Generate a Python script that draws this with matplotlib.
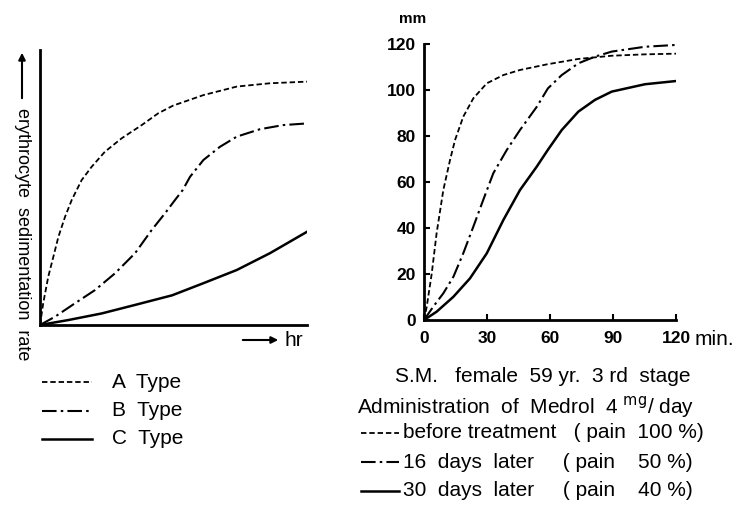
"""
Erythrocyte sedimentation rate curves: schematic types and a Medrol case
"""

import matplotlib
matplotlib.use("Agg")
import matplotlib.pyplot as plt
from matplotlib.lines import Line2D
from matplotlib.patches import FancyArrowPatch

plt.rcParams["font.family"] = ["Liberation Sans", "DejaVu Sans"]

# Left panel: schematic curves (arbitrary units, 0-100 on both axes)
type_a_x = [0, 1.2, 3.1, 5, 6.9, 9.4, 11.9, 15.6, 19.4, 24.3, 30.6, 38.1, 44.3,
            49.9, 61.2, 73.7, 86.1, 100]
type_a_y = [0, 7.9, 17.6, 24.8, 32.1, 39.4, 45.5, 52.7, 57.6, 63, 67.9, 72.7, 77,
            79.8, 83.6, 86.7, 87.9, 88.5]
type_b_x = [0, 5.6, 13.1, 20.6, 28.1, 35.6, 41.8, 46.8, 50.6, 53.4, 56.2, 61.2,
            67.4, 73.7, 82.4, 91.1, 100]
type_b_y = [0, 3, 7.9, 12.7, 18.8, 26.1, 34.5, 40.6, 45.5, 49, 53.9, 60, 64.8,
            68.5, 71.2, 72.7, 73.3]
type_c_x = [0, 10.6, 23.1, 35.6, 49.5, 61.2, 73.7, 86.1, 100]
type_c_y = [0, 1.8, 4.2, 7.3, 10.8, 15.2, 20, 26.1, 33.9]
type_labels = ["A  Type", "B  Type", "C  Type"]

# Right panel: S.M. case, sedimentation (mm) vs time (min)
before_t = [0, 1.3, 3.7, 6, 9.2, 12.4, 14.8, 18.7, 23.5, 29.9, 37.8, 45.7, 58.8,
            73.5, 89.4, 105.2, 120]
before_mm = [0, 5.8, 20.3, 37.7, 56.5, 69.6, 78.3, 88.4, 96.4, 102.9, 106.5, 108.7,
             111.2, 113.5, 114.9, 115.5, 115.8]
day16_t = [0, 4.4, 9.2, 14, 18.7, 23.5, 28.2, 33, 39.4, 45.7, 53.7, 59, 65.6, 73.5,
           81.4, 89.4, 105.2, 120]
day16_mm = [0, 5.8, 11.6, 18.8, 29, 40.6, 52.2, 63.8, 73.9, 82.6, 92.7, 100.7, 106.5,
            111.6, 114.5, 116.7, 118.8, 119.6]
day30_t = [0, 6, 14, 21.9, 29.9, 37.8, 45.7, 53.7, 59, 65.6, 73.5, 81.4, 89.4,
           105.2, 120]
day30_mm = [0, 3.6, 10.1, 18.1, 29, 43.5, 56.5, 66.7, 74, 82.6, 90.6, 95.7, 99.3,
            102.5, 103.9]
case_title = "S.M.   female  59 yr.  3 rd  stage"
case_dose = "Administration  of  Medrol  4 $^{\\mathrm{mg}}$/ day"
case_labels = ["before treatment   ( pain  100 %)",
               "16  days  later     ( pain    50 %)",
               "30  days  later     ( pain    40 %)"]
x_ticks = [0, 30, 60, 90, 120]
y_ticks = [0, 20, 40, 60, 80, 100, 120]

dash_a = (0, (3, 1.6))
dash_b = (0, (7, 2, 1.2, 2))
styles = [dict(lw=1.3, ls=dash_a), dict(lw=1.5, ls=dash_b), dict(lw=1.8, ls="-")]

W, H = 737, 508
fig = plt.figure(figsize=(W / 100, H / 100), dpi=100)

# ---- left schematic panel
ax1 = fig.add_axes([40 / W, 1 - 325 / H, 267 / W, 275 / H])
for xs, ys, st in zip([type_a_x, type_b_x, type_c_x], [type_a_y, type_b_y, type_c_y], styles):
    ax1.plot(xs, ys, color="black", **st)
ax1.set_xlim(0, 100)
ax1.set_ylim(0, 100)
ax1.spines[["top", "right"]].set_visible(False)
for s in ("left", "bottom"):
    ax1.spines[s].set_linewidth(2)
ax1.set_xticks([])
ax1.set_yticks([])

# arrows + axis texts of the schematic
fig.add_artist(FancyArrowPatch(
    (22 / W, 1 - 101 / H), (22 / W, 1 - 50 / H), transform=fig.transFigure,
    arrowstyle="-|>", mutation_scale=10, color="black", lw=1.5))
fig.text(22 / W, 1 - 234 / H, "erythrocyte  sedimentation  rate", rotation=-90,
         ha="center", va="center", fontsize=13)
fig.add_artist(FancyArrowPatch(
    (240 / W, 1 - 340 / H), (281 / W, 1 - 340 / H), transform=fig.transFigure,
    arrowstyle="-|>", mutation_scale=10, color="black", lw=1.5))
fig.text(284 / W, 1 - 340 / H, "hr", ha="left", va="center", fontsize=15)

# left legend
for i, (lab, st) in enumerate(zip(type_labels, styles)):
    y = 1 - (382 + 28.5 * i) / H
    fig.add_artist(Line2D([42 / W, 92 / W], [y, y], color="black", **st))
    fig.text(112 / W, y, lab, ha="left", va="center", fontsize=15)

# ---- right case panel
ax2 = fig.add_axes([424 / W, 1 - 320 / H, 252 / W, 276 / H])
for xs, ys, st in zip([before_t, day16_t, day30_t], [before_mm, day16_mm, day30_mm], styles):
    ax2.plot(xs, ys, color="black", **st)
ax2.set_xlim(0, 120)
ax2.set_ylim(0, 120)
ax2.spines[["top", "right"]].set_visible(False)
for s in ("left", "bottom"):
    ax2.spines[s].set_linewidth(2)
ax2.set_xticks(x_ticks)
ax2.set_yticks(y_ticks)
ax2.tick_params(direction="in", length=4, width=1.5, labelsize=12.5, pad=6)
ax2.tick_params(axis="x", pad=8)
ax2.set_xticklabels([str(v) for v in x_ticks], fontweight="bold")
ax2.set_yticklabels([str(v) for v in y_ticks], fontweight="bold")
ax2.text(129, -8.5, "min.", ha="left", va="center", fontsize=15, clip_on=False)
ax2.text(-5.5, 131, "mm", ha="center", va="center", fontsize=11, fontweight="bold",
         clip_on=False)

# case description + legend
fig.text(543 / W, 1 - 377 / H, case_title, ha="center", va="center", fontsize=15)
fig.text(357 / W, 1 - 407 / H, case_dose, ha="left", va="center", fontsize=15)
for i, (lab, st) in enumerate(zip(case_labels, styles)):
    y = 1 - (433 + 29 * i) / H
    fig.add_artist(Line2D([361 / W, 399 / W], [y, y], color="black", **st))
    fig.text(403 / W, y, lab, ha="left", va="center", fontsize=15)

fig.savefig("out.png", dpi=100)
